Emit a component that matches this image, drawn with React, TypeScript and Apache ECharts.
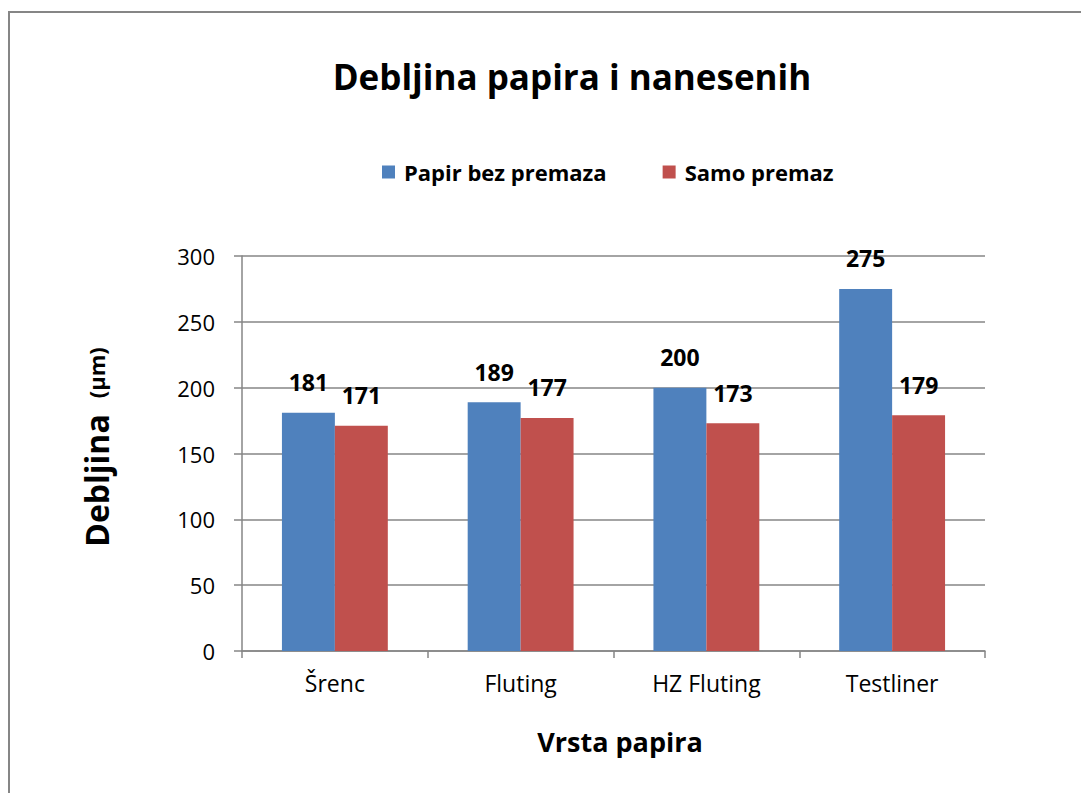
import React, { useEffect, useRef } from "react";
import * as echarts from "echarts";

const categories = ["Šrenc", "Fluting", "HZ Fluting", "Testliner"];
const papirBezPremaza = [181, 189, 200, 275];
const samoPremaz = [171, 177, 173, 179];
const seriesNames = ["Papir bez premaza", "Samo premaz"];
const yTicks = { min: 0, max: 300, interval: 50 };

const FONT = "'Open Sans', sans-serif";

export default function App() {
  const ref = useRef<HTMLDivElement>(null);
  useEffect(() => {
    if (!ref.current) return;
    const chart = echarts.init(ref.current, null, { renderer: "svg" });
    const labelCfg = {
      show: true,
      position: "top",
      distance: 19,
      color: "#000",
      fontSize: 23,
      fontWeight: "bold",
      fontFamily: FONT,
    };
    const borderStyle = { stroke: "#868686", lineWidth: 2 };
    chart.setOption({
      animation: false,
      backgroundColor: "#fff",
      textStyle: { fontFamily: FONT },
      graphic: [
        { type: "line", shape: { x1: 9, y1: 12, x2: 9, y2: 900 }, style: borderStyle, silent: true },
        { type: "line", shape: { x1: 8, y1: 12, x2: 1200, y2: 12 }, style: borderStyle, silent: true },
        {
          type: "text",
          x: 572,
          y: 76,
          style: {
            text: "Debljina papira i nanesenih",
            align: "center",
            verticalAlign: "middle",
            fontSize: 35,
            fontWeight: "bold",
            fontFamily: FONT,
            fill: "#000",
          },
        },
        {
          type: "text",
          x: 96,
          y: 447,
          rotation: Math.PI / 2,
          style: {
            text: "{a|Debljina}{b|(µm)}",
            align: "center",
            verticalAlign: "middle",
            fill: "#000",
            rich: {
              a: { fontSize: 32, fontWeight: "bold", fontFamily: FONT, fill: "#000", padding: [0, 16, 0, 0] },
              b: { fontSize: 22, fontWeight: "bold", fontFamily: FONT, fill: "#000" },
            },
          },
        },
        {
          type: "text",
          x: 620,
          y: 741,
          style: {
            text: "Vrsta papira",
            align: "center",
            verticalAlign: "middle",
            fontSize: 27,
            fontWeight: "bold",
            fontFamily: FONT,
            fill: "#000",
          },
        },
      ],
      legend: {
        left: 377,
        top: 156,
        itemWidth: 13,
        itemHeight: 13,
        itemGap: 56,
        icon: "rect",
        textStyle: {
          fontSize: 22,
          fontWeight: "bold",
          fontFamily: FONT,
          color: "#000",
          padding: [0, 0, 0, 4],
        },
        data: seriesNames,
      },
      grid: { left: 242, top: 256, width: 743, height: 395, containLabel: false },
      xAxis: {
        type: "category",
        data: categories,
        axisLine: { lineStyle: { color: "#868686", width: 1.5 } },
        axisTick: { show: true, length: 7, lineStyle: { color: "#868686", width: 1.5 } },
        axisLabel: { fontSize: 23, color: "#000", fontFamily: FONT, margin: 20 },
      },
      yAxis: {
        type: "value",
        min: yTicks.min,
        max: yTicks.max,
        interval: yTicks.interval,
        axisLine: { show: true, lineStyle: { color: "#868686", width: 1.5 } },
        axisTick: { show: true, length: 8, lineStyle: { color: "#868686", width: 1.5 } },
        splitLine: { lineStyle: { color: "#868686", width: 1.5 } },
        axisLabel: { fontSize: 22, color: "#000", fontFamily: FONT, margin: 27 },
      },
      series: [
        {
          name: seriesNames[0],
          type: "bar",
          data: papirBezPremaza,
          itemStyle: { color: "#4F81BD" },
          barGap: "0%",
          barCategoryGap: "43%",
          label: labelCfg,
        },
        {
          name: seriesNames[1],
          type: "bar",
          data: samoPremaz,
          itemStyle: { color: "#C0504D" },
          label: labelCfg,
        },
      ],
    });
    return () => chart.dispose();
  }, []);
  return (
    <div
      ref={ref}
      style={{ position: "absolute", left: 0, top: 0, width: 1081, height: 793 }}
    />
  );
}
